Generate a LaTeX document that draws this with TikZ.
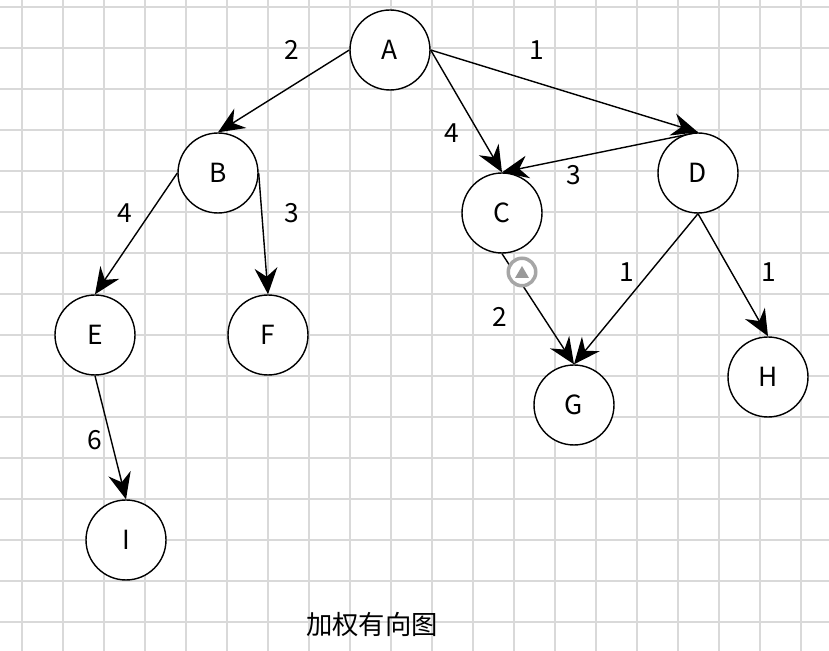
\documentclass[tikz,border=0pt]{standalone}
\usepackage{fontspec}
\setmainfont{Noto Sans CJK SC}
\usetikzlibrary{arrows.meta}

\begin{document}
\begin{tikzpicture}[x=0.02cm,y=-0.02cm,
  vertex/.style={circle,draw,thick,fill=white,minimum size=1.6cm,inner sep=0pt,font=\fontsize{15}{17}\selectfont},
  wt/.style={font=\fontsize{15}{17}\selectfont},
  edge/.style={draw,thick,-{Stealth[length=15pt,width=13pt,inset=5pt]}}]
\useasboundingbox (0,0) rectangle (829,651);
\fill[white] (0,0) rectangle (829,651);
\foreach \i in {0,...,19} \draw[black!15,line width=1pt] (22+41*\i,0)--(22+41*\i,651);
\foreach \j in {0,...,15} \draw[black!15,line width=1pt] (0,7+41*\j)--(829,7+41*\j);
% vertices
\node[vertex] (A) at (390,50) {A};
\node[vertex] (B) at (218,173) {B};
\node[vertex] (C) at (502,213) {C};
\node[vertex] (D) at (698,173) {D};
\node[vertex] (E) at (95,335) {E};
\node[vertex] (F) at (268,335) {F};
\node[vertex] (G) at (574,405) {G};
\node[vertex] (H) at (768,377) {H};
\node[vertex] (I) at (126,540) {I};
% edges
\draw[edge] (A.west)--(B.north);
\draw[edge] (A.east)--(C.north);
\draw[edge] (A.east)--(D.north);
\draw[edge,{Stealth[length=15pt,width=13pt,inset=5pt]}-] (C.north)--(D.north);
\draw[edge] (B.west)--(E.north);
\draw[edge] (B.east)--(F.north);
\draw[edge] (C.south)--(G.north);
\draw[edge] (D.south)--(G.north);
\draw[edge] (D.south)--(H.north);
\draw[edge] (E.south)--(I.north);
% weights
\node[wt] (wab) at (292,50) {2};
\node[wt] (wad) at (537,50) {1};
\node[wt] (wac) at (452,133) {4};
\node[wt] (wdc) at (574,175) {3};
\node[wt] (wbe) at (125,213) {4};
\node[wt] (wbf) at (292,213) {3};
\node[wt] (wdg) at (627,272) {1};
\node[wt] (wdh) at (769,272) {1};
\node[wt] (wcg) at (500,317) {2};
\node[wt] (wei) at (95,440) {6};
% hover marker
\node[circle,draw=black!35,line width=2pt,fill=white,minimum size=0.55cm,inner sep=0pt] (hv) at (522,272) {};
\fill[black!40] (515,278)--(529,278)--(522,266)--cycle;
\node[font=\fontsize{15}{17}\selectfont] (title) at (372,625) {加权有向图};
\end{tikzpicture}
\end{document}
